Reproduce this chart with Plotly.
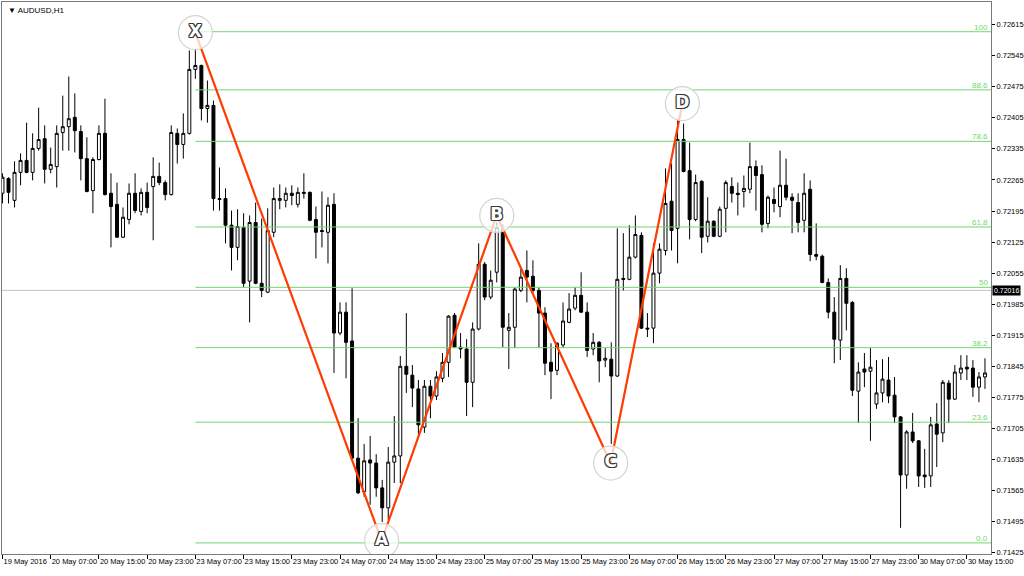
import plotly.graph_objects as go

symbol_title = "AUDUSD,H1"
bar_index = list(range(164))

open_ = [
    0.72235, 0.72268, 0.72219, 0.72282, 0.72309, 0.72282, 0.72336, 0.72358, 0.72289, 0.72295,
    0.72372, 0.72385, 0.72406, 0.72374, 0.72313, 0.72241, 0.72311, 0.72370, 0.72235, 0.72210,
    0.72136, 0.72176, 0.72235, 0.72194, 0.72237, 0.72250, 0.72273, 0.72259, 0.72232, 0.72370,
    0.72345, 0.72370, 0.72514, 0.72523, 0.72426, 0.72433, 0.72223, 0.72223, 0.72163, 0.72113,
    0.72158, 0.72037, 0.72169, 0.72032, 0.72012, 0.72147, 0.72219, 0.72219, 0.72235, 0.72210,
    0.72237, 0.72237, 0.72176, 0.72151, 0.72147, 0.72210, 0.71920, 0.71967, 0.71902, 0.71638,
    0.71562, 0.71634, 0.71627, 0.71571, 0.71526, 0.71629, 0.71643, 0.71845, 0.71825, 0.71794,
    0.71708, 0.71800, 0.71778, 0.71818, 0.71854, 0.71960, 0.71888, 0.71884, 0.71809, 0.71929,
    0.72075, 0.72001, 0.72057, 0.72154, 0.71926, 0.71933, 0.72016, 0.72061, 0.72048, 0.72016,
    0.71965, 0.71854, 0.71836, 0.71893, 0.71944, 0.71976, 0.72005, 0.71967, 0.71884, 0.71899,
    0.71859, 0.71861, 0.71823, 0.72043, 0.72041, 0.72091, 0.72140, 0.71931, 0.71931, 0.72055,
    0.72106, 0.72217, 0.72156, 0.72356, 0.72286, 0.72176, 0.72262, 0.72138, 0.72172, 0.72138,
    0.72201, 0.72250, 0.72235, 0.72239, 0.72244, 0.72295, 0.72277, 0.72167, 0.72221, 0.72205,
    0.72253, 0.72226, 0.72214, 0.72174, 0.72244, 0.72097, 0.72093, 0.72034, 0.71967, 0.71904,
    0.72043, 0.71989, 0.71789, 0.71839, 0.71834, 0.71760, 0.71785, 0.71814, 0.71780, 0.71731,
    0.71600, 0.71697, 0.71677, 0.71600, 0.71598, 0.71715, 0.71695, 0.71807, 0.71771, 0.71830,
    0.71843, 0.71841, 0.71798, 0.71821,
]
high = [
    0.72280, 0.72271, 0.72307, 0.72325, 0.72394, 0.72370, 0.72428, 0.72388, 0.72338, 0.72388,
    0.72455, 0.72498, 0.72460, 0.72388, 0.72361, 0.72316, 0.72388, 0.72448, 0.72280, 0.72259,
    0.72203, 0.72257, 0.72280, 0.72246, 0.72259, 0.72316, 0.72304, 0.72264, 0.72388, 0.72381,
    0.72415, 0.72557, 0.72561, 0.72525, 0.72489, 0.72444, 0.72293, 0.72246, 0.72196, 0.72199,
    0.72190, 0.72185, 0.72214, 0.72178, 0.72201, 0.72248, 0.72255, 0.72248, 0.72253, 0.72248,
    0.72280, 0.72239, 0.72205, 0.72239, 0.72226, 0.72235, 0.71989, 0.71989, 0.72021, 0.71728,
    0.71670, 0.71688, 0.71647, 0.71589, 0.71663, 0.71733, 0.71868, 0.71965, 0.71848, 0.71814,
    0.71814, 0.71814, 0.71834, 0.71875, 0.71960, 0.71965, 0.71920, 0.71906, 0.71944, 0.72122,
    0.72080, 0.72061, 0.72169, 0.72165, 0.71965, 0.72023, 0.72068, 0.72106, 0.72084, 0.72023,
    0.71978, 0.71897, 0.71899, 0.71989, 0.72010, 0.72023, 0.72057, 0.71989, 0.71920, 0.71902,
    0.71886, 0.71899, 0.72156, 0.72145, 0.72163, 0.72185, 0.72147, 0.71965, 0.72122, 0.72122,
    0.72291, 0.72302, 0.72399, 0.72392, 0.72349, 0.72277, 0.72264, 0.72226, 0.72174, 0.72205,
    0.72264, 0.72271, 0.72259, 0.72275, 0.72349, 0.72309, 0.72298, 0.72230, 0.72248, 0.72331,
    0.72313, 0.72235, 0.72235, 0.72280, 0.72264, 0.72167, 0.72097, 0.72043, 0.72001, 0.72073,
    0.72066, 0.71992, 0.71854, 0.71875, 0.71886, 0.71859, 0.71861, 0.71866, 0.71821, 0.71733,
    0.71701, 0.71740, 0.71679, 0.71659, 0.71731, 0.71762, 0.71814, 0.71814, 0.71848, 0.71870,
    0.71870, 0.71859, 0.71832, 0.71863,
]
low = [
    0.72212, 0.72212, 0.72203, 0.72253, 0.72280, 0.72264, 0.72331, 0.72257, 0.72280, 0.72248,
    0.72331, 0.72331, 0.72327, 0.72264, 0.72237, 0.72190, 0.72309, 0.72230, 0.72113, 0.72134,
    0.72134, 0.72165, 0.72190, 0.72185, 0.72190, 0.72129, 0.72253, 0.72219, 0.72230, 0.72302,
    0.72313, 0.72367, 0.72493, 0.72399, 0.72394, 0.72196, 0.72196, 0.72122, 0.72061, 0.72084,
    0.72023, 0.71944, 0.72030, 0.72001, 0.72010, 0.72136, 0.72199, 0.72203, 0.72208, 0.72203,
    0.72223, 0.72172, 0.72088, 0.72113, 0.72077, 0.71830, 0.71915, 0.71818, 0.71634, 0.71557,
    0.71551, 0.71533, 0.71551, 0.71494, 0.71499, 0.71582, 0.71582, 0.71785, 0.71753, 0.71686,
    0.71695, 0.71728, 0.71769, 0.71809, 0.71821, 0.71886, 0.71863, 0.71733, 0.71753, 0.71926,
    0.71994, 0.71996, 0.72034, 0.71888, 0.71839, 0.71886, 0.72012, 0.71989, 0.72010, 0.71886,
    0.71825, 0.71771, 0.71825, 0.71886, 0.71942, 0.71971, 0.71965, 0.71866, 0.71870, 0.71809,
    0.71843, 0.71670, 0.71821, 0.72016, 0.72039, 0.72088, 0.71929, 0.71911, 0.71897, 0.72032,
    0.72095, 0.72106, 0.72077, 0.72282, 0.72131, 0.72172, 0.72100, 0.72124, 0.72136, 0.72136,
    0.72147, 0.72214, 0.72185, 0.72203, 0.72235, 0.72196, 0.72147, 0.72156, 0.72192, 0.72181,
    0.72219, 0.72145, 0.72147, 0.72147, 0.72082, 0.72084, 0.72032, 0.71953, 0.71852, 0.71859,
    0.71926, 0.71778, 0.71717, 0.71798, 0.71677, 0.71749, 0.71764, 0.71762, 0.71717, 0.71481,
    0.71569, 0.71672, 0.71573, 0.71571, 0.71573, 0.71618, 0.71674, 0.71717, 0.71769, 0.71814,
    0.71814, 0.71776, 0.71764, 0.71794,
]
close = [
    0.72271, 0.72237, 0.72282, 0.72309, 0.72282, 0.72336, 0.72356, 0.72289, 0.72300, 0.72370,
    0.72385, 0.72403, 0.72376, 0.72313, 0.72239, 0.72311, 0.72370, 0.72232, 0.72205, 0.72136,
    0.72181, 0.72235, 0.72196, 0.72237, 0.72203, 0.72273, 0.72259, 0.72232, 0.72372, 0.72345,
    0.72370, 0.72514, 0.72523, 0.72426, 0.72433, 0.72223, 0.72221, 0.72163, 0.72113, 0.72160,
    0.72032, 0.72169, 0.72032, 0.72016, 0.72151, 0.72223, 0.72223, 0.72235, 0.72230, 0.72237,
    0.72235, 0.72174, 0.72147, 0.72149, 0.72208, 0.71920, 0.71967, 0.71899, 0.71638, 0.71560,
    0.71632, 0.71627, 0.71571, 0.71526, 0.71629, 0.71643, 0.71845, 0.71827, 0.71796, 0.71713,
    0.71800, 0.71778, 0.71821, 0.71854, 0.71958, 0.71888, 0.71884, 0.71809, 0.71929, 0.72075,
    0.72001, 0.72039, 0.72158, 0.71933, 0.71933, 0.72019, 0.72046, 0.72046, 0.72016, 0.71965,
    0.71852, 0.71834, 0.71897, 0.71947, 0.71974, 0.72005, 0.71967, 0.71881, 0.71899, 0.71857,
    0.71863, 0.71823, 0.72041, 0.72041, 0.72091, 0.72142, 0.71931, 0.71929, 0.72055, 0.72109,
    0.72212, 0.72151, 0.72356, 0.72284, 0.72176, 0.72259, 0.72136, 0.72172, 0.72138, 0.72199,
    0.72259, 0.72235, 0.72232, 0.72246, 0.72295, 0.72275, 0.72165, 0.72226, 0.72212, 0.72253,
    0.72226, 0.72219, 0.72169, 0.72235, 0.72097, 0.72093, 0.72034, 0.71967, 0.71906, 0.72043,
    0.71987, 0.71791, 0.71832, 0.71832, 0.71843, 0.71785, 0.71816, 0.71778, 0.71731, 0.71600,
    0.71697, 0.71677, 0.71598, 0.71596, 0.71713, 0.71692, 0.71809, 0.71771, 0.71832, 0.71841,
    0.71839, 0.71798, 0.71821, 0.71830,
]

x_tick_bars = [0, 8, 16, 24, 32, 40, 48, 56, 64, 72, 80, 88, 96, 104, 112, 120, 128, 136, 144, 152, 160]
x_tick_labels = [
    "19 May 2016", "20 May 07:00", "20 May 15:00", "20 May 23:00", "23 May 07:00",
    "23 May 15:00", "23 May 23:00", "24 May 07:00", "24 May 15:00", "24 May 23:00",
    "25 May 07:00", "25 May 15:00", "25 May 23:00", "26 May 07:00", "26 May 15:00",
    "26 May 23:00", "27 May 07:00", "27 May 15:00", "27 May 23:00", "30 May 07:00",
    "30 May 15:00",
]
y_tick_values = [
    0.71425, 0.71495, 0.71565, 0.71635, 0.71705, 0.71775, 0.71845, 0.71915, 0.71985,
    0.72055, 0.72125, 0.72195, 0.72265, 0.72335, 0.72405, 0.72475, 0.72545, 0.72615,
]
y_tick_labels = [f"{v:.5f}" for v in y_tick_values]

fib_labels = ["100", "88.6", "78.6", "61.8", "50", "38.2", "23.6", "0.0"]
fib_prices = [0.72599, 0.72468, 0.72352, 0.72159, 0.72023, 0.71887, 0.71719, 0.71447]
fib_start_bar = 32

pattern_labels = ["X", "A", "B", "C", "D"]
pattern_bars = [32.0, 62.9, 82.0, 100.9, 112.8]
pattern_prices = [0.72597, 0.71452, 0.72185, 0.71627, 0.72437]

current_price = 0.72016

X_RANGE = [-0.08, 164.0]
Y_RANGE = [0.71422, 0.72666]
FONT = "Liberation Sans"
FIB_LINE = "#6fd66f"
FIB_TEXT = "#6cd86c"
OUTLINE = ("1px 0 0 #3a3a3a, -1px 0 0 #3a3a3a, 0 1px 0 #3a3a3a, 0 -1px 0 #3a3a3a, "
           "1px 1px 0 #3a3a3a, -1px -1px 0 #3a3a3a, 1px -1px 0 #3a3a3a, -1px 1px 0 #3a3a3a")

fig = go.Figure()

fig.add_trace(go.Candlestick(
    x=bar_index, open=open_, high=high, low=low, close=close,
    increasing=dict(line=dict(color="#000000", width=1), fillcolor="#ffffff"),
    decreasing=dict(line=dict(color="#000000", width=1), fillcolor="#000000"),
    whiskerwidth=0, showlegend=False, hoverinfo="skip",
))

for lvl in fib_prices:
    fig.add_trace(go.Scatter(
        x=[fib_start_bar, X_RANGE[1]], y=[lvl, lvl], mode="lines",
        line=dict(color=FIB_LINE, width=1), showlegend=False, hoverinfo="skip",
    ))

fig.add_trace(go.Scatter(
    x=pattern_bars, y=pattern_prices, mode="lines",
    line=dict(color="#ff3b00", width=2.2), showlegend=False, hoverinfo="skip",
))

fig.add_trace(go.Scatter(
    x=pattern_bars, y=pattern_prices, mode="markers+text",
    text=pattern_labels, textposition="middle center",
    textfont=dict(family="DejaVu Sans", size=17, color="#ffffff", weight="bold",
                  shadow=OUTLINE),
    marker=dict(size=34, color="rgba(255,255,255,0.75)",
                line=dict(color="#d4d4d4", width=1.2)),
    showlegend=False, hoverinfo="skip",
))

fig.add_shape(type="line", xref="paper", x0=0, x1=1, yref="y",
              y0=current_price, y1=current_price,
              line=dict(color="#c4c4c4", width=1), layer="below")

for lab, lvl in zip(fib_labels, fib_prices):
    fig.add_annotation(x=1, xref="paper", y=lvl, yref="y", text=lab,
                       showarrow=False, xanchor="right", yanchor="bottom",
                       xshift=-1, yshift=-2,
                       font=dict(family=FONT, size=8, color=FIB_TEXT))

fig.add_annotation(x=1, xref="paper", y=current_price, yref="y",
                   text=f"{current_price:.5f}", showarrow=False,
                   xanchor="left", yanchor="middle", xshift=1,
                   bgcolor="#000000", borderpad=1,
                   font=dict(family=FONT, size=7, color="#ffffff"))

fig.add_annotation(x=0.004, xref="paper", y=0.997, yref="paper",
                   text="\u25bc " + symbol_title, showarrow=False,
                   xanchor="left", yanchor="top",
                   font=dict(family=FONT, size=8, color="#000000"))

fig.update_layout(
    width=1024, height=576,
    margin=dict(l=2, r=33, t=2, b=22, autoexpand=False),
    paper_bgcolor="#ffffff", plot_bgcolor="#ffffff",
    showlegend=False,
    xaxis=dict(
        range=X_RANGE, tickmode="array", tickvals=x_tick_bars, ticktext=x_tick_labels,
        ticks="outside", ticklen=4, tickcolor="#000000", tickangle=0,
        ticklabelposition="outside right", automargin=False,
        tickfont=dict(family=FONT, size=7.5, color="#000000"),
        showgrid=False, zeroline=False, showline=True, linecolor="#7a7a7a",
        linewidth=1, mirror=True, rangeslider=dict(visible=False),
    ),
    yaxis=dict(
        range=Y_RANGE, side="right", tickmode="array", tickvals=y_tick_values,
        ticktext=y_tick_labels, ticks="outside", ticklen=3, tickcolor="#000000",
        automargin=False,
        tickfont=dict(family=FONT, size=7.5, color="#000000"),
        showgrid=False, zeroline=False, showline=True, linecolor="#7a7a7a",
        linewidth=1, mirror=True,
    ),
)

fig.write_html(
    "out.html",
    config={"displayModeBar": False},
    post_script="document.body.style.margin='0';document.body.style.padding='0';"
                "document.body.style.overflow='hidden';",
)
